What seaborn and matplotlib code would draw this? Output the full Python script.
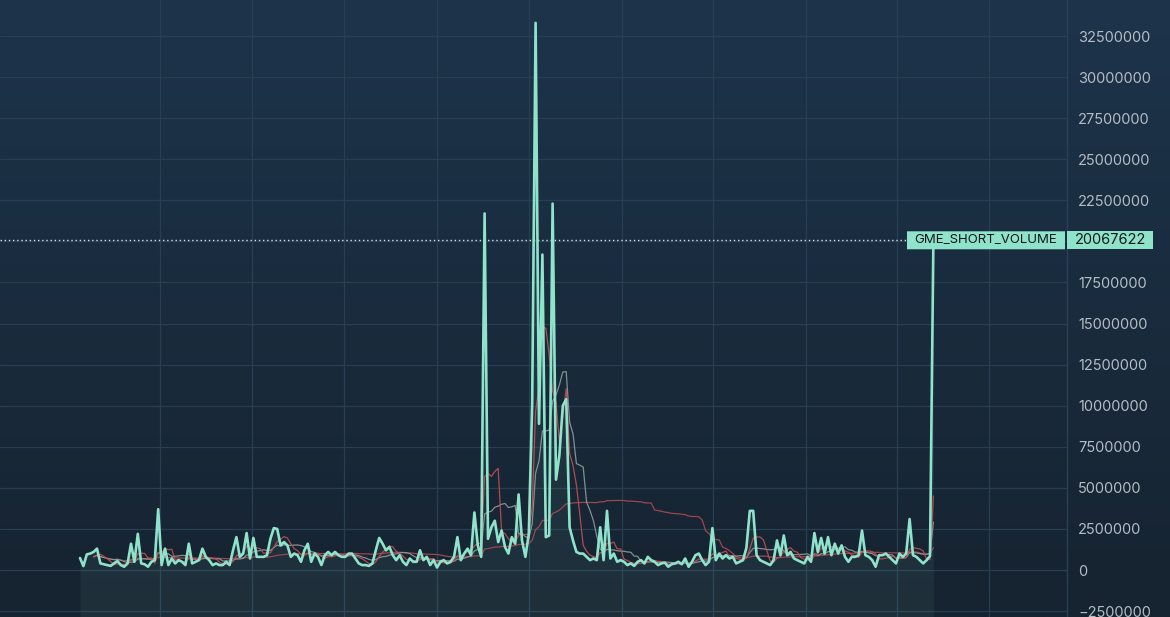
import matplotlib
matplotlib.use("Agg")
import matplotlib.pyplot as plt
import matplotlib.transforms as mtransforms
from matplotlib.colors import LinearSegmentedColormap
from matplotlib.patches import FancyBboxPatch, Rectangle
from matplotlib.ticker import FuncFormatter
import numpy as np
import pandas as pd
import seaborn as sns

SERIES_NAME = "GME_SHORT_VOLUME"

# daily short volume, millions of shares
short_volume_m = [
    0.73, 0.24, 0.95, 1.0, 1.1, 1.3, 0.4, 0.35, 0.3, 0.25,
    0.4, 0.55, 0.3, 0.2, 0.4, 1.6, 0.5, 2.2, 0.4, 0.35,
    0.2, 0.5, 0.6, 3.7, 0.3, 1.3, 0.3, 0.7, 0.4, 0.6,
    0.5, 0.3, 1.6, 0.4, 0.5, 0.6, 1.3, 0.8, 0.6, 0.3,
    0.4, 0.3, 0.3, 0.5, 0.3, 1.2, 2.0, 0.8, 1.0, 2.25,
    0.7, 1.95, 0.8, 0.8, 0.8, 0.9, 1.9, 2.55, 2.5, 1.5,
    1.7, 1.5, 0.8, 1.0, 0.9, 0.5, 1.2, 1.6, 0.5, 1.0,
    0.8, 0.3, 0.9, 1.1, 0.9, 1.1, 0.9, 0.8, 0.8, 1.0,
    1.0, 0.7, 0.4, 0.3, 0.3, 0.25, 0.4, 1.2, 1.95, 1.6,
    1.2, 1.4, 0.9, 0.6, 0.9, 0.5, 0.3, 0.7, 0.5, 0.5,
    1.2, 0.6, 0.8, 0.3, 0.6, 0.15, 0.5, 0.6, 0.4, 0.5,
    0.8, 2.0, 0.6, 1.0, 1.3, 0.9, 3.5, 1.5, 0.8, 21.7,
    1.9, 2.6, 3.0, 1.7, 2.4, 1.4, 1.0, 2.0, 1.6, 4.6,
    1.8, 0.8, 2.2, 10.2, 33.3, 8.9, 19.2, 2.0, 2.1, 22.3,
    5.5, 7.0, 10.0, 10.4, 2.6, 1.8, 1.1, 1.0, 1.0, 0.8,
    0.6, 0.7, 0.6, 2.6, 0.6, 3.6, 0.7, 1.0, 0.5, 0.6,
    0.5, 0.3, 0.4, 0.25, 0.5, 0.6, 0.4, 0.8, 0.6, 0.5,
    0.3, 0.4, 0.45, 0.2, 0.35, 0.4, 0.5, 0.35, 0.7, 0.2,
    0.5, 0.9, 1.0, 0.6, 0.3, 0.5, 2.55, 0.6, 1.0, 0.7,
    0.9, 0.7, 0.8, 0.4, 0.5, 0.6, 1.35, 3.6, 3.6, 0.9,
    0.6, 0.5, 0.4, 0.3, 0.6, 1.8, 0.9, 2.1, 0.9, 1.1,
    0.7, 0.6, 0.5, 0.4, 0.8, 0.5, 2.25, 1.1, 1.95, 1.0,
    2.0, 0.9, 1.6, 1.0, 1.5, 0.8, 0.5, 0.8, 0.8, 0.9,
    2.4, 0.9, 0.8, 0.6, 0.2, 0.9, 0.9, 1.0, 0.8, 0.6,
    0.4, 1.0, 0.8, 1.0, 3.1, 0.9, 0.8, 0.6, 0.4, 0.6,
    0.85, 20.067622,
]

# moving averages drawn over the series
ma_windows = [50, 10, 5]
ma_colors = {50: "#a84a50", 10: "#8e9a9c", 5: "#c0504f"}

y_ticks = list(range(-2500000, 32500001, 2500000))

# layout (pixels)
W, H = 1170, 617
PLOT_RIGHT = 1067
X0, STEP = 80, 3.4
PX_PER_M = 16.43
ZERO_Y = 570
VGRID_PX = [160, 252, 344, 437, 529, 622, 713, 806, 897, 989]

MINT = "#8fe3cb"


def main():
    df = pd.DataFrame({
        "day": np.arange(len(short_volume_m)),
        "volume": np.array(short_volume_m) * 1e6,
    })
    for w in ma_windows:
        df[f"ma{w}"] = df["volume"].rolling(w, min_periods=5).mean()

    sns.set_style("dark")
    plt.rcParams["font.family"] = ["Inter", "DejaVu Sans"]

    fig = plt.figure(figsize=(W / 100, H / 100), dpi=100)

    bg = fig.add_axes([0, 0, 1, 1], zorder=0)
    cmap = LinearSegmentedColormap.from_list("bg", ["#1d344b", "#162330"])
    bg.imshow(np.linspace(0, 1, 256).reshape(-1, 1), cmap=cmap,
              aspect="auto", extent=[0, 1, 0, 1])
    bg.set_axis_off()

    ax = fig.add_axes([0, 0, PLOT_RIGHT / W, 1], zorder=1)
    ax.set_facecolor("none")

    ymin = -(H - ZERO_Y) / PX_PER_M * 1e6
    ymax = ZERO_Y / PX_PER_M * 1e6
    ax.set_xlim(-X0 / STEP, (PLOT_RIGHT - X0) / STEP)
    ax.set_ylim(ymin, ymax)

    ax.fill_between(df["day"], df["volume"], ymin, color=MINT, alpha=0.065,
                    lw=0, zorder=2)

    for w in ma_windows:
        sns.lineplot(data=df, x="day", y=f"ma{w}", ax=ax, color=ma_colors[w],
                     lw=0.9, alpha=0.9, zorder=3)
    sns.lineplot(data=df, x="day", y="volume", ax=ax, color=MINT, lw=1.9,
                 zorder=5)

    last = df["volume"].iloc[-1]
    box_h = 18 / PX_PER_M * 1e6

    # grid + axis
    ax.set_xticks([(p - X0) / STEP for p in VGRID_PX])
    ax.set_yticks(y_ticks)
    ax.grid(True, color="#283e52", lw=0.9)
    ax.set_axisbelow(True)
    ax.set_xlabel("")
    ax.set_ylabel("")
    ax.tick_params(axis="x", length=0, labelbottom=False)
    ax.yaxis.tick_right()
    ax.tick_params(axis="y", length=0, pad=8, labelcolor="#b3bdc5",
                   labelsize=10.5)

    def fmt(v, _):
        # the last-value box hides the tick under it
        if abs(v - last) < box_h:
            return ""
        return f"{int(round(v))}".replace("-", "\u2212")

    ax.yaxis.set_major_formatter(FuncFormatter(fmt))
    for side in ["top", "left", "bottom"]:
        ax.spines[side].set_visible(False)
    ax.spines["right"].set_color("#2a4054")
    ax.spines["right"].set_linewidth(1)

    # last value marker
    ax.axhline(last, xmin=0, xmax=907 / PLOT_RIGHT, color="#cfe8e2",
               lw=1, ls=(0, (1, 2)), zorder=4)

    trans = mtransforms.blended_transform_factory(fig.transFigure, ax.transData)
    name_box = FancyBboxPatch((907 / W, last - box_h / 2), 158 / W, box_h,
                              boxstyle="round,pad=0,rounding_size=0.002",
                              transform=trans, fc=MINT, ec="none",
                              zorder=10, clip_on=False)
    val_box = Rectangle((1067 / W, last - box_h / 2), 86 / W, box_h,
                        transform=trans, fc=MINT, ec="none",
                        zorder=10, clip_on=False)
    fig.add_artist(name_box)
    fig.add_artist(val_box)
    fig.text(986 / W, last, SERIES_NAME, transform=trans, ha="center",
             va="center", fontsize=9.5, color="#10181c", zorder=11)
    fig.text(1110 / W, last, f"{int(round(last))}", transform=trans,
             ha="center", va="center", fontsize=10.5, color="#10181c",
             zorder=11)

    fig.savefig("out.png", dpi=100)


if __name__ == "__main__":
    main()
